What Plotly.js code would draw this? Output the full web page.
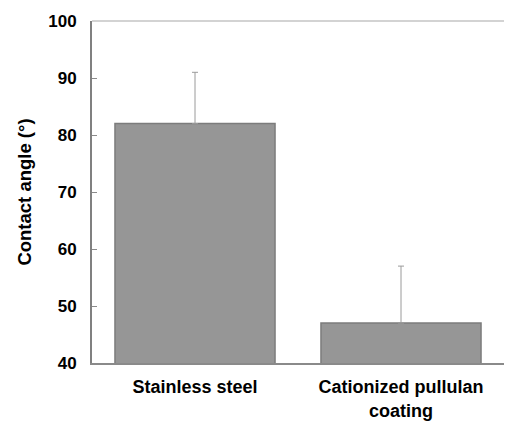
<!DOCTYPE html>
<html>
<head>
<meta charset="utf-8">
<script src="https://cdn.plot.ly/plotly-3.0.1.min.js"></script>
<style>html,body{margin:0;padding:0;background:#fff}#chart{width:505px;height:421px}</style>
</head>
<body>
<div id="chart"></div>
<script>
const categories = ["Stainless steel", "Cationized pullulan<br>coating"];
const contactAngle = [82, 47];
const errorUpper = [9, 10];
const errorLower = [0, 0];
const yTicks = [40, 50, 60, 70, 80, 90, 100];

const trace = {
  type: 'bar',
  x: categories,
  y: contactAngle,
  marker: {color: '#969696', line: {color: '#7c7c7c', width: 1.5}},
  error_y: {type: 'data', symmetric: false, array: errorUpper, arrayminus: errorLower,
            color: '#9a9a9a', thickness: 1, width: 3},
  hoverinfo: 'none'
};

const layout = {
  width: 505, height: 421,
  margin: {l: 92, r: 1, t: 21, b: 58},
  paper_bgcolor: '#fff', plot_bgcolor: '#fff',
  showlegend: false,
  bargap: 0.223,
  font: {family: 'Liberation Sans, Arial, sans-serif', color: '#000'},
  xaxis: {
    range: [-0.5, 1.5], showgrid: false, zeroline: false,
    showline: true, linecolor: '#8a8a8a', linewidth: 1.5,
    ticks: '', tickfont: {size: 18, weight: 'bold', color: '#000'},
    ticklabelstandoff: 7, fixedrange: true
  },
  yaxis: {
    range: [40, 100], tickvals: yTicks, ticktext: yTicks.map(String),
    showgrid: false, zeroline: false,
    showline: true, linecolor: '#808080', linewidth: 2,
    ticks: 'inside', ticklen: 5, tickcolor: '#8a8a8a', tickwidth: 1,
    tickfont: {size: 17, weight: 'bold', color: '#000'},
    ticklabelstandoff: 10,
    title: {text: 'Contact angle (°)', font: {size: 18.5, weight: 'bold', color: '#000'}, standoff: 12},
    fixedrange: true
  },
  shapes: [{type: 'line', xref: 'paper', yref: 'paper', x0: 0, x1: 1, y0: 1, y1: 1,
            line: {color: '#c4c4c4', width: 1.5}}]
};

Plotly.newPlot('chart', [trace], layout, {displayModeBar: false, staticPlot: true});
</script>
</body>
</html>
